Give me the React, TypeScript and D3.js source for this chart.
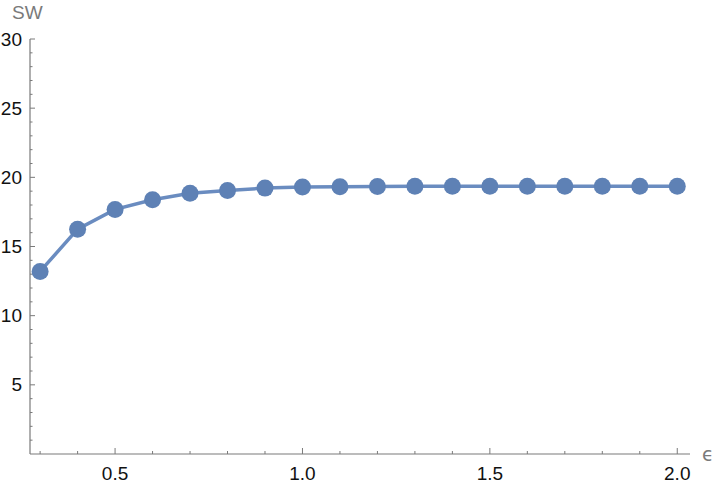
import React, { useEffect, useRef } from "react";
import * as d3 from "d3";

// epsilon values and SW readings
const epsilon = [0.3, 0.4, 0.5, 0.6, 0.7, 0.8, 0.9, 1.0, 1.1, 1.2, 1.3, 1.4, 1.5, 1.6, 1.7, 1.8, 1.9, 2.0];
const sw = [13.2, 16.25, 17.68, 18.38, 18.85, 19.05, 19.22, 19.3, 19.32, 19.34, 19.35, 19.35, 19.35, 19.35, 19.35, 19.35, 19.35, 19.35];

const xMajor = [0.5, 1.0, 1.5, 2.0];
const xMinor = [0.3, 0.4, 0.6, 0.7, 0.8, 0.9, 1.1, 1.2, 1.3, 1.4, 1.6, 1.7, 1.8, 1.9];
const yMajor = [5, 10, 15, 20, 25, 30];
const yMinor = d3.range(1, 30).filter((v) => v % 5 !== 0);

const W = 720;
const H = 490;

const App = () => {
  const ref = useRef<SVGSVGElement>(null);

  useEffect(() => {
    const svg = d3.select(ref.current);
    svg.selectAll("*").remove();

    const x = d3.scaleLinear().domain([0.273, 2.034]).range([30, 690]);
    const y = d3.scaleLinear().domain([0, 30]).range([454, 39]);

    const axisColor = "#7a7a7a";
    const font = "'Liberation Sans', Arial, sans-serif";

    // axes lines
    svg.append("line")
      .attr("x1", x.range()[0]).attr("x2", x.range()[1])
      .attr("y1", y(0)).attr("y2", y(0))
      .attr("stroke", axisColor).attr("stroke-width", 1.2);
    svg.append("line")
      .attr("x1", x(0.273)).attr("x2", x(0.273))
      .attr("y1", y(0)).attr("y2", y(30))
      .attr("stroke", axisColor).attr("stroke-width", 1.2);

    // x ticks
    svg.append("g").selectAll("line").data(xMajor).join("line")
      .attr("x1", (d) => x(d)).attr("x2", (d) => x(d))
      .attr("y1", y(0)).attr("y2", y(0) - 6)
      .attr("stroke", axisColor);
    svg.append("g").selectAll("line").data(xMinor).join("line")
      .attr("x1", (d) => x(d)).attr("x2", (d) => x(d))
      .attr("y1", y(0)).attr("y2", y(0) - 3)
      .attr("stroke", axisColor);
    svg.append("g").selectAll("text").data(xMajor).join("text")
      .attr("x", (d) => x(d)).attr("y", 480)
      .attr("text-anchor", "middle")
      .attr("font-family", font).attr("font-size", 19)
      .attr("fill", "#111")
      .text((d) => d3.format(".1f")(d));

    // y ticks
    const x0 = x(0.273);
    svg.append("g").selectAll("line").data(yMajor).join("line")
      .attr("x1", x0).attr("x2", x0 + 5)
      .attr("y1", (d) => y(d)).attr("y2", (d) => y(d))
      .attr("stroke", axisColor);
    svg.append("g").selectAll("line").data(yMinor).join("line")
      .attr("x1", x0).attr("x2", x0 + 2.5)
      .attr("y1", (d) => y(d)).attr("y2", (d) => y(d))
      .attr("stroke", axisColor);
    svg.append("g").selectAll("text").data(yMajor).join("text")
      .attr("x", 22).attr("y", (d) => y(d) + 6.5)
      .attr("text-anchor", "end")
      .attr("font-family", font).attr("font-size", 19)
      .attr("fill", "#111")
      .text((d) => d);

    // axis labels
    svg.append("text")
      .attr("x", 12).attr("y", 18.5)
      .attr("font-family", font).attr("font-size", 19)
      .attr("fill", "#7a7a7a")
      .text("SW");
    svg.append("text")
      .attr("x", 702).attr("y", 461)
      .attr("font-family", "'DejaVu Sans', sans-serif").attr("font-size", 19)
      .attr("fill", "#7a7a7a")
      .text("ϵ");

    // series
    const line = d3.line<number>()
      .x((d, i) => x(epsilon[i]))
      .y((d) => y(d));
    svg.append("path")
      .datum(sw)
      .attr("d", line)
      .attr("fill", "none")
      .attr("stroke", "#6a8cc0")
      .attr("stroke-width", 3.5);
    svg.append("g").selectAll("circle").data(sw).join("circle")
      .attr("cx", (d, i) => x(epsilon[i]))
      .attr("cy", (d) => y(d))
      .attr("r", 8.5)
      .attr("fill", "#5e81b5");
  }, []);

  return (
    <svg
      ref={ref}
      width={W}
      height={H}
      style={{ position: "absolute", left: 0, top: 0, background: "#fff" }}
    />
  );
};

export default App;
